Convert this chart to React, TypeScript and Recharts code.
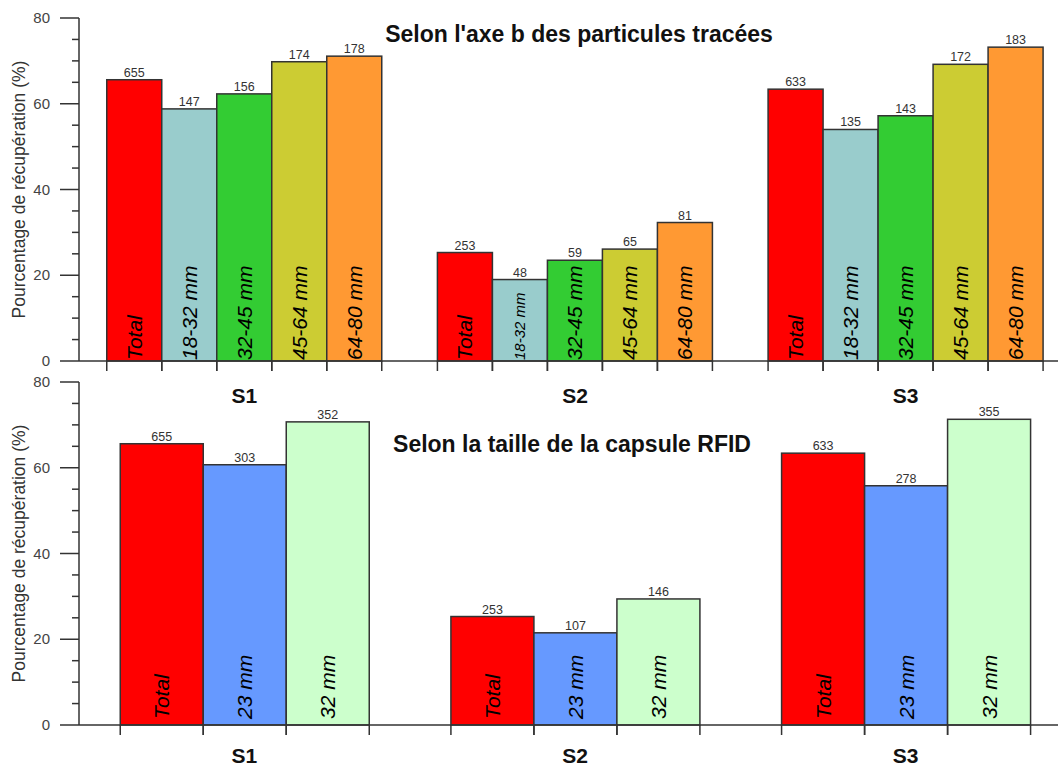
import React from 'react';
import { BarChart, Bar, XAxis, YAxis, LabelList } from 'recharts';

// ---------- data ----------
const sites = ['S1', 'S2', 'S3'];

const axisBLabels = ['Total', '18-32 mm', '32-45 mm', '45-64 mm', '64-80 mm'];
const axisBColors = ['#FF0000', '#99CCCC', '#33CC33', '#CCCC33', '#FF9933'];
const totalPct = [65.6, 25.3, 63.4];
const totalN = [655, 253, 633];
const b1832Pct = [58.8, 19.0, 54.0];
const b1832N = [147, 48, 135];
const b3245Pct = [62.3, 23.5, 57.2];
const b3245N = [156, 59, 143];
const b4564Pct = [69.8, 26.1, 69.2];
const b4564N = [174, 65, 172];
const b6480Pct = [71.1, 32.3, 73.2];
const b6480N = [178, 81, 183];

const capsuleLabels = ['Total', '23 mm', '32 mm'];
const capsuleColors = ['#FF0000', '#6699FF', '#CCFFCC'];
const c23Pct = [60.7, 21.5, 55.8];
const c23N = [303, 107, 278];
const c32Pct = [70.7, 29.4, 71.3];
const c32N = [352, 146, 355];

const yTicks = [0, 5, 10, 15, 20, 25, 30, 35, 40, 45, 50, 55, 60, 65, 70, 75, 80];
const yTitle = 'Pourcentage de récupération (%)';
const titleTop = "Selon l'axe b des particules tracées";
const titleBottom = 'Selon la taille de la capsule RFID';

const topData = sites.map((s, i) => ({
  site: s,
  v0: totalPct[i], n0: totalN[i],
  v1: b1832Pct[i], n1: b1832N[i],
  v2: b3245Pct[i], n2: b3245N[i],
  v3: b4564Pct[i], n3: b4564N[i],
  v4: b6480Pct[i], n4: b6480N[i],
}));

const bottomData = sites.map((s, i) => ({
  site: s,
  v0: totalPct[i], n0: totalN[i],
  v1: c23Pct[i], n1: c23N[i],
  v2: c32Pct[i], n2: c32N[i],
}));

// ---------- styling helpers ----------
const FONT = '"Liberation Sans", Arial, Helvetica, sans-serif';
const INK = '#333';

const charW: Record<string, number> = {
  '0': 0.556, '1': 0.556, '2': 0.556, '3': 0.556, '4': 0.556, '5': 0.556, '6': 0.556,
  '7': 0.556, '8': 0.556, '9': 0.556, '-': 0.333, ' ': 0.278, m: 0.833, T: 0.611,
  o: 0.556, t: 0.278, a: 0.556, l: 0.222,
};
const emWidth = (s: string) => s.split('').reduce((acc, c) => acc + (charW[c] ?? 0.556), 0);

const makeShape = (label: string, pad: number) => (props: any) => {
  const { x, y, width, height, fill } = props;
  if (x == null || width == null) return null;
  const base = y + height;
  const cx = x + width / 2;
  const em = emWidth(label);
  let fs = 21;
  if (height < em * fs + pad + 3) fs = Math.max(8, (height - 14) / em);
  return (
    <g>
      <rect x={x} y={y} width={width} height={height} fill={fill} stroke={INK} strokeWidth={1.5} />
      <line x1={x} x2={x} y1={base} y2={base + 10} stroke={INK} strokeWidth={1.5} />
      <line x1={x + width} x2={x + width} y1={base} y2={base + 10} stroke={INK} strokeWidth={1.5} />
      <text
        transform={`translate(${cx},${base - pad}) rotate(-90)`}
        textAnchor="start"
        dominantBaseline="central"
        fontStyle="italic"
        fontSize={fs}
        fontFamily={FONT}
        fill="#000"
      >
        {label}
      </text>
    </g>
  );
};

const PctTick = (props: any) => {
  const { x, y, payload } = props;
  const v = payload.value;
  const major = v % 20 === 0;
  return (
    <g>
      <line x1={x - (major ? 19 : 7)} x2={x} y1={y} y2={y} stroke={INK} strokeWidth={1.5} />
      {major && (
        <text x={x - 29} y={y} dy={5} textAnchor="end" fontSize={15} fontFamily={FONT} fill="#444">
          {v}
        </text>
      )}
    </g>
  );
};

const makeSiteTick = (dy: number) => (props: any) => {
  const { x, y, payload } = props;
  return (
    <text x={x} y={y + dy} textAnchor="middle" fontSize={21} fontWeight="bold" fontFamily={FONT} fill="#111">
      {payload.value}
    </text>
  );
};

const yLabel = (p: any) => {
  const vb = (p && p.viewBox) || { y: 18, height: 343 };
  return (
    <text
      transform={`translate(19,${vb.y + vb.height / 2}) rotate(-90)`}
      textAnchor="middle"
      dominantBaseline="central"
      fontSize={17.5}
      fontFamily={FONT}
      fill={INK}
    >
      {yTitle}
    </text>
  );
};

const Panel = ({ data, labels, colors, gap, pad, tickDy }: any) => (
  <BarChart
    width={1071}
    height={411}
    data={data}
    margin={{ top: 18, right: 0, bottom: 0, left: 0 }}
    barCategoryGap={gap}
    barGap={0}
  >
    <XAxis
      dataKey="site"
      height={50}
      tickSize={0}
      tickMargin={0}
      tickLine={false}
      axisLine={{ stroke: INK, strokeWidth: 1.5 }}
      tick={makeSiteTick(tickDy)}
      interval={0}
    />
    <YAxis
      type="number"
      domain={[0, 80]}
      ticks={yTicks}
      interval={0}
      width={79}
      tickSize={0}
      tickMargin={0}
      tickLine={false}
      axisLine={{ stroke: INK, strokeWidth: 1.5 }}
      tick={<PctTick />}
      label={yLabel}
    />
    {labels.map((lab: string, i: number) => (
      <Bar
        key={lab}
        dataKey={`v${i}`}
        fill={colors[i]}
        shape={makeShape(lab, pad)}
        isAnimationActive={false}
      >
        <LabelList dataKey={`n${i}`} position="top" offset={3} fontSize={12.5} fill={INK} fontFamily={FONT} />
      </Bar>
    ))}
  </BarChart>
);

export default function App() {
  return (
    <div
      style={{
        position: 'absolute',
        left: 0,
        top: 0,
        width: 1058,
        height: 768,
        overflow: 'hidden',
        background: '#fff',
        fontFamily: FONT,
      }}
    >
      <div style={{ position: 'absolute', left: 0, top: 0 }}>
        <Panel data={topData} labels={axisBLabels} colors={axisBColors} gap={27.75} pad={1} tickDy={42} />
      </div>
      <div style={{ position: 'absolute', left: 0, top: 364 }}>
        <Panel data={bottomData} labels={capsuleLabels} colors={capsuleColors} gap={41.25} pad={6} tickDy={37.5} />
      </div>
      <svg
        width={1058}
        height={768}
        style={{ position: 'absolute', left: 0, top: 0, pointerEvents: 'none' }}
      >
        <text x={579} y={41.5} textAnchor="middle" fontSize={23} fontWeight="bold" fontFamily={FONT} fill="#111">
          {titleTop}
        </text>
        <text x={572} y={451.7} textAnchor="middle" fontSize={23} fontWeight="bold" fontFamily={FONT} fill="#111">
          {titleBottom}
        </text>
      </svg>
    </div>
  );
}
